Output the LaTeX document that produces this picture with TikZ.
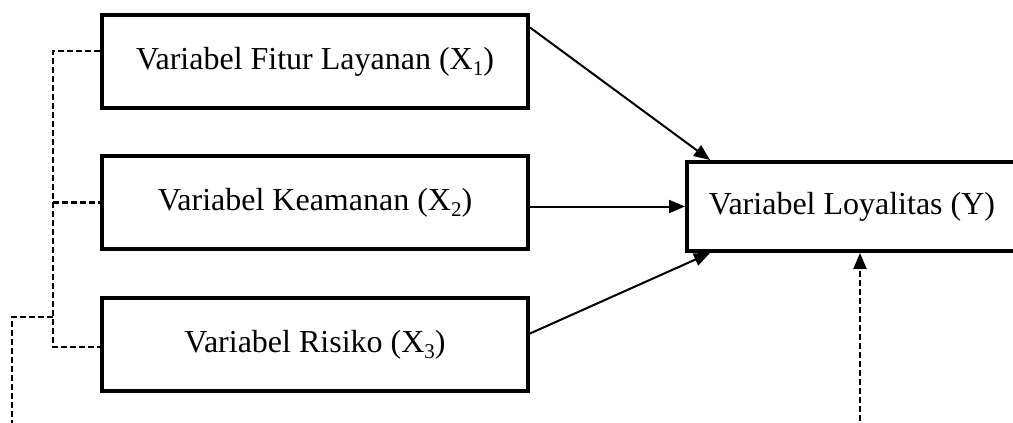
\documentclass[tikz,border=0pt]{standalone}
\usepackage{fontspec}
\setmainfont{Liberation Serif}
\usetikzlibrary{arrows.meta,calc}
\newcommand{\mysub}[1]{\raisebox{-6pt}{\fontsize{21}{21}\selectfont #1}}
\begin{document}
\begin{tikzpicture}[x=1pt,y=-1pt,
  varbox/.style={draw, line width=4pt, inner sep=0pt, minimum width=426pt, minimum height=93pt, font=\fontsize{32}{38}\selectfont},
  ybox/.style={draw, line width=4pt, inner sep=0pt, minimum width=330pt, minimum height=89pt, font=\fontsize{32}{38}\selectfont},
  arr/.style={line width=2pt, -{Triangle[length=16pt,width=13pt]}},
  dsh/.style={line width=2.2pt, dash pattern=on 6pt off 3pt},
  darr/.style={dsh, -{Triangle[length=16pt,width=13pt]}}]
\useasboundingbox (0,0) rectangle (1013,423);
\clip (0,0) rectangle (1013,423);
\node[varbox] (x1) at (315,61.5) {Variabel Fitur Layanan (X\mysub{1})};
\node[varbox] (x2) at (315,202.5) {Variabel Keamanan (X\mysub{2})};
\node[varbox] (x3) at (315,344.5) {Variabel Risiko (X\mysub{3})};
\node[ybox] (y) at (852,206.5) {Variabel Loyalitas (Y)};
% solid arrows
\draw[arr] ([yshift=34pt]x1.east) -- ([xshift=25pt]y.north west);
\draw[arr] (x2.east |- y.west) -- (y.west);
\draw[arr] ([yshift=11pt]x3.east) -- ([xshift=25pt]y.south west);
% dashed bracket
\coordinate (b1) at (53,51);
\coordinate (b2) at (53,202.5);
\coordinate (b3) at (53,347);
\coordinate (bj) at (53,317);
\coordinate (oc) at (12,317);
\coordinate (ob) at (12,430);
\draw[dsh] (x1.west |- b1) -- (b1) -- (b3) -- (x3.west |- b3);
\draw[dsh] (b2) -- (x2.west |- b2);
\draw[dsh] (bj) -- (oc) -- (ob);
% dashed arrow from below
\coordinate (yb) at (860,430);
\draw[darr] (yb) -- (yb |- y.south);
\end{tikzpicture}
\end{document}
